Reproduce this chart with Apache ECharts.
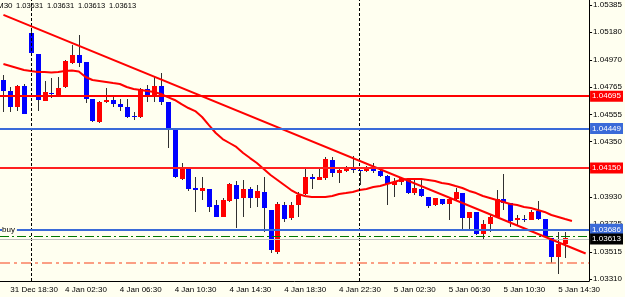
<!DOCTYPE html>
<html>
<head>
<meta charset="utf-8">
<script src="https://cdn.jsdelivr.net/npm/echarts@6/dist/echarts.min.js"></script>
<style>
  html, body { margin: 0; padding: 0; background: #fffff0; }
  #chart { width: 625px; height: 297px; }
</style>
</head>
<body>
<div id="chart"></div>
<script>
// bar times: [day, first half-hour slot, number of bars]
const daySegments = [['31 Dec', 36, 4], ['4 Jan', 0, 48], ['5 Jan', 0, 34]]

// candles (M30)
const opens = [
  1.04817, 1.04734, 1.04613, 1.04772, 1.05173, 1.05014, 1.04658, 1.04719, 1.04704, 1.04764,
  1.04946, 1.05006, 1.04953, 1.04673, 1.04499, 1.04651, 1.04666, 1.04635, 1.04613, 1.04545,
  1.04537, 1.04749, 1.04688, 1.04772, 1.04651, 1.04446, 1.04067, 1.04158, 1.03999, 1.03977,
  1.03992, 1.03871, 1.03780, 1.03901, 1.04022, 1.03924, 1.03992, 1.03924, 1.03969, 1.03833,
  1.03515, 1.03871, 1.03772, 1.03871, 1.03954, 1.04083, 1.04060, 1.04075, 1.04211, 1.04113,
  1.04128, 1.04151, 1.04136, 1.04128, 1.04158, 1.04128, 1.04090, 1.04022, 1.04045, 1.04067,
  1.03961, 1.03992, 1.03931, 1.03871, 1.03916, 1.03878, 1.03916, 1.03961, 1.03772, 1.03818,
  1.03651, 1.03727, 1.03780, 1.03916, 1.03886, 1.03757, 1.03764, 1.03757, 1.03825, 1.03764,
  1.03621, 1.03477, 1.03575, 1.03613
]
const closes = [
  1.04734, 1.04613, 1.04772, 1.04560, 1.05022, 1.04666, 1.04726, 1.04711, 1.04757, 1.04961,
  1.05006, 1.04946, 1.04673, 1.04507, 1.04651, 1.04666, 1.04635, 1.04613, 1.04537, 1.04537,
  1.04749, 1.04688, 1.04772, 1.04651, 1.04446, 1.04083, 1.04158, 1.03992, 1.03984, 1.03999,
  1.03855, 1.03780, 1.03908, 1.04030, 1.03916, 1.03992, 1.03924, 1.03977, 1.03848, 1.03530,
  1.03878, 1.03764, 1.03871, 1.03946, 1.04083, 1.04067, 1.04083, 1.04219, 1.04113, 1.04136,
  1.04151, 1.04136, 1.04128, 1.04158, 1.04128, 1.04090, 1.04030, 1.04045, 1.04075, 1.03961,
  1.03999, 1.03939, 1.03863, 1.03924, 1.03878, 1.03916, 1.03969, 1.03772, 1.03818, 1.03651,
  1.03727, 1.03780, 1.03916, 1.03886, 1.03749, 1.03772, 1.03764, 1.03818, 1.03764, 1.03628,
  1.03477, 1.03575, 1.03621, 1.03613
]
const lows = [
  1.04575, 1.04575, 1.04582, 1.04560, 1.05006, 1.04582, 1.04658, 1.04681, 1.04688, 1.04757,
  1.04938, 1.04916, 1.04643, 1.04499, 1.04492, 1.04643, 1.04613, 1.04582, 1.04529, 1.04514,
  1.04529, 1.04651, 1.04651, 1.04628, 1.04302, 1.04075, 1.04060, 1.03977, 1.03818, 1.03908,
  1.03818, 1.03780, 1.03780, 1.03893, 1.03696, 1.03780, 1.03848, 1.03855, 1.03666, 1.03507,
  1.03499, 1.03742, 1.03757, 1.03780, 1.03946, 1.03992, 1.04060, 1.04060, 1.04083, 1.04037,
  1.04120, 1.04113, 1.04022, 1.04120, 1.04113, 1.04083, 1.03871, 1.03931, 1.04022, 1.03954,
  1.03946, 1.03931, 1.03848, 1.03863, 1.03871, 1.03757, 1.03908, 1.03681, 1.03681, 1.03643,
  1.03605, 1.03666, 1.03780, 1.03833, 1.03704, 1.03719, 1.03742, 1.03757, 1.03757, 1.03621,
  1.03431, 1.03348, 1.03469, 1.03613
]
const highs = [
  1.04855, 1.04764, 1.04779, 1.04787, 1.05211, 1.05014, 1.04810, 1.04832, 1.04840, 1.04969,
  1.05082, 1.05158, 1.04953, 1.04673, 1.04658, 1.04757, 1.04704, 1.04673, 1.04673, 1.04575,
  1.04757, 1.04779, 1.04847, 1.04870, 1.04651, 1.04446, 1.04189, 1.04158, 1.04083, 1.04083,
  1.03992, 1.03908, 1.03924, 1.04037, 1.04052, 1.04060, 1.04007, 1.04022, 1.04083, 1.03833,
  1.03893, 1.03893, 1.03893, 1.03969, 1.04151, 1.04105, 1.04151, 1.04234, 1.04234, 1.04158,
  1.04166, 1.04242, 1.04136, 1.04166, 1.04189, 1.04151, 1.04098, 1.04075, 1.04083, 1.04075,
  1.04060, 1.04060, 1.03931, 1.03924, 1.03916, 1.03931, 1.03999, 1.03961, 1.03818, 1.03818,
  1.03757, 1.03795, 1.03984, 1.04105, 1.03886, 1.03795, 1.03795, 1.03833, 1.03901, 1.03764,
  1.03621, 1.03666, 1.03666, 1.03613
]
// moving average
const maValues = [
  1.04938, 1.04923, 1.04908, 1.04893, 1.04885, 1.04878, 1.04878, 1.04874, 1.04878, 1.04885,
  1.04889, 1.04882, 1.04840, 1.04817, 1.04810, 1.04802, 1.04794, 1.04787, 1.04764, 1.04749,
  1.04741, 1.04734, 1.04726, 1.04711, 1.04688, 1.04666, 1.04635, 1.04605, 1.04582, 1.04537,
  1.04476, 1.04416, 1.04370, 1.04340, 1.04310, 1.04264, 1.04226, 1.04189, 1.04143, 1.04098,
  1.04060, 1.04022, 1.03984, 1.03954, 1.03939, 1.03931, 1.03931, 1.03931, 1.03939, 1.03954,
  1.03961, 1.03969, 1.03984, 1.03992, 1.04007, 1.04014, 1.04030, 1.04045, 1.04060, 1.04067,
  1.04067, 1.04067, 1.04060, 1.04052, 1.04037, 1.04030, 1.04014, 1.03999, 1.03977, 1.03961,
  1.03939, 1.03924, 1.03908, 1.03893, 1.03878, 1.03871, 1.03855, 1.03848, 1.03833, 1.03818,
  1.03795, 1.03780, 1.03764, 1.03749
]

// trendline end points (first and last slot)
const trendStart = 1.05310
const trendEnd = 1.03503

// horizontal levels
const redLevels = [1.04695, 1.04150]
const blueLevel = 1.04449
const buyLevel = 1.03686
const greenLevel = 1.03636
const bidLevel = 1.03613
const stopLevel = 1.03431

// price scale ticks
const priceTicks = [1.05385, 1.05180, 1.04970, 1.04765, 1.04555, 1.04350, 1.04140, 1.03930, 1.03725, 1.03515, 1.03310]
const priceMin = 1.03295
const priceMax = 1.05423

// header
const headerSymbol = 'M30'
const headerPrices = ['1.03631', '1.03631', '1.03613', '1.03613']

const font = 'Liberation Sans, Arial, sans-serif'
const bullColor = '#ff0000'
const bearColor = '#0000ff'
const wickColor = '#303030'

const categories = []
daySegments.forEach(([day, start, count]) => {
  for (let s = start; s < start + count; s++) {
    const hh = Math.floor(s / 2)
    const mm = s % 2 ? '30' : '00'
    categories.push(day + ' ' + (hh < 10 ? '0' : '') + hh + ':' + mm)
  }
})

const ohlc = opens.map((o, i) => [i, o, closes[i], lows[i], highs[i]])

function renderCandle(params, api) {
  const i = api.value(0)
  const o = api.value(1)
  const c = api.value(2)
  const pO = api.coord([i, o])
  const x = Math.round(pO[0])
  const yO = Math.round(pO[1])
  const yC = Math.round(api.coord([i, c])[1])
  const yL = Math.round(api.coord([i, api.value(3)])[1])
  const yH = Math.round(api.coord([i, api.value(4)])[1])
  let up = c > o
  if (c === o && i > 0) up = c > closes[i - 1]
  const color = up ? bullColor : bearColor
  const top = Math.min(yO, yC)
  const h = Math.max(Math.abs(yO - yC), 1)
  return {
    type: 'group',
    children: [
      {
        type: 'line',
        shape: { x1: x + 0.5, y1: yH, x2: x + 0.5, y2: yL },
        style: { stroke: wickColor, lineWidth: 1 }
      },
      {
        type: 'rect',
        shape: { x: x - 2, y: top, width: 5, height: h },
        style: { fill: color }
      }
    ]
  }
}

function boxLabel(bg) {
  return {
    show: true,
    position: 'end',
    distance: 1,
    formatter: p => Number(p.value).toFixed(5),
    color: '#ffffff',
    backgroundColor: bg,
    padding: [2, 2, 1, 2],
    fontSize: 8,
    fontFamily: font
  }
}

function smallText(text, left, top, extra) {
  return Object.assign({
    text: text,
    left: left,
    top: top,
    padding: 0,
    itemGap: 0,
    z: 10,
    textStyle: { fontSize: 8, fontFamily: font, fontWeight: 'normal', color: '#000000' }
  }, extra || {})
}

const chart = echarts.init(document.getElementById('chart'))
chart.setOption({
  backgroundColor: '#fffff0',
  animation: false,
  title: [
    smallText(headerSymbol, -3, 2),
    ...headerPrices.map((t, i) => smallText(t, 16 + i * 31, 2, { textStyle: { fontSize: 7.5, fontFamily: font, fontWeight: 'normal', color: '#000000' } })),
    smallText('buy', 2, 226, { backgroundColor: '#fffff0', padding: [0, 2, 0, 0] })
  ],
  grid: { left: 0, right: 33, top: 0, bottom: 16 },
  xAxis: {
    type: 'category',
    data: categories,
    boundaryGap: true,
    axisLine: { lineStyle: { color: '#000000', width: 1 } },
    axisTick: {
      alignWithLabel: true,
      length: 3,
      interval: idx => (idx - 1) % 8 === 0,
      lineStyle: { color: '#000000' }
    },
    axisLabel: {
      interval: idx => (idx - 1) % 8 === 0,
      align: 'left',
      margin: 5,
      color: '#000000',
      fontSize: 8,
      fontFamily: font
    },
    splitLine: { show: false }
  },
  yAxis: {
    type: 'value',
    position: 'right',
    min: priceMin,
    max: priceMax,
    scale: true,
    axisLine: { show: true, lineStyle: { color: '#000000', width: 1 } },
    axisTick: { show: true, length: 3, customValues: priceTicks, lineStyle: { color: '#000000' } },
    axisLabel: {
      customValues: priceTicks,
      formatter: v => v.toFixed(5),
      margin: 4,
      color: '#000000',
      fontSize: 8,
      fontFamily: font
    },
    splitLine: { show: false }
  },
  series: [
    {
      name: 'levels',
      type: 'line',
      data: [],
      z: 1,
      markLine: {
        silent: true,
        precision: 5,
        symbol: ['none', 'none'],
        animation: false,
        label: { show: false },
        data: [
          { xAxis: categories[4], lineStyle: { color: '#000000', width: 1, type: [3, 2] } },
          { xAxis: categories[52], lineStyle: { color: '#000000', width: 1, type: [3, 2] } },
          { yAxis: stopLevel, lineStyle: { color: '#fa8060', width: 1.5, type: [10, 4, 3, 4] } },
          { yAxis: bidLevel, lineStyle: { color: '#c0c0c0', width: 1, type: 'solid' } },
          { yAxis: greenLevel, lineStyle: { color: '#007700', width: 1, type: [9, 3, 2, 3] } }
        ]
      }
    },
    {
      name: 'candles',
      type: 'custom',
      renderItem: renderCandle,
      data: ohlc,
      encode: { x: 0, y: [1, 2, 3, 4] },
      z: 3
    },
    {
      name: 'MA',
      type: 'line',
      data: maValues,
      symbol: 'none',
      lineStyle: { color: '#ff0000', width: 2 },
      z: 4,
      markLine: {
        silent: true,
        precision: 5,
        symbol: ['none', 'none'],
        animation: false,
        label: { show: false },
        lineStyle: { type: 'solid' },
        data: [
          [
            { coord: [0, trendStart], lineStyle: { color: '#ff0000', width: 2, type: 'solid' } },
            { coord: [categories.length - 1, trendEnd] }
          ],
          { yAxis: redLevels[0], lineStyle: { color: '#ff0000', width: 2, type: 'solid' }, label: boxLabel('#ff0000') },
          { yAxis: blueLevel, lineStyle: { color: '#3a6ad8', width: 2, type: 'solid' }, label: boxLabel('#3a6ad8') },
          { yAxis: redLevels[1], lineStyle: { color: '#ff2020', width: 2, type: 'solid' }, label: boxLabel('#ff0000') },
          { yAxis: buyLevel, lineStyle: { color: '#3a6ad8', width: 2, type: 'solid' }, label: boxLabel('#3a6ad8') },
          { yAxis: bidLevel, lineStyle: { color: '#c0c0c0', width: 0 }, label: boxLabel('#000000') }
        ]
      }
    }
  ]
})
</script>
</body>
</html>
